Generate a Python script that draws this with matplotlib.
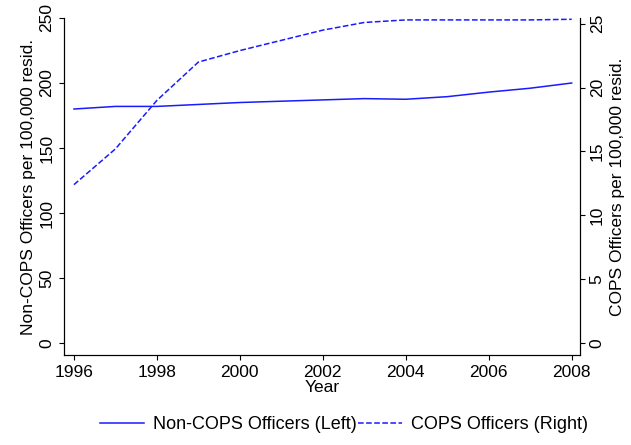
import matplotlib.pyplot as plt

years = list(range(1996, 2009))
non_cops = [180, 182, 182, 183.5, 185, 186, 187, 188, 187.5, 189.5, 193, 196, 200]
cops = [12.4, 15.2, 19.0, 22.0, 22.9, 23.7, 24.5, 25.1, 25.3, 25.3, 25.3, 25.3, 25.35]

plt.rcParams['font.family'] = ['Liberation Sans', 'DejaVu Sans']
fig = plt.figure(figsize=(6.31, 4.45), dpi=100)
ax = fig.add_axes([64/631, 1-355/445, 516/631, 337/445])
ax2 = ax.twinx()
blue = '#1a1aff'
l1, = ax.plot(years, non_cops, color=blue, lw=1.1, label='Non-COPS Officers (Left)')
l2, = ax2.plot(years, cops, color=blue, lw=1.1, ls='--', label='COPS Officers (Right)')

ax.set_xlim(1995.76, 2008.2)
ax.set_ylim(-9.2, 250)
ax2.set_ylim(-0.94, 25.45)
ax.set_xticks(range(1996, 2009, 2))
ax.set_yticks(range(0, 251, 50))
ax2.set_yticks(range(0, 26, 5))
for a in (ax, ax2):
    a.tick_params(labelsize=12.5)
    a.spines['top'].set_visible(False)
for t in ax.get_yticklabels() + ax2.get_yticklabels():
    t.set_rotation(90); t.set_va('center')
ax.set_xlabel('Year', fontsize=12.5, labelpad=0)
ax.set_ylabel('Non-COPS Officers per 100,000 resid.', fontsize=12.5, labelpad=2)
ax2.set_ylabel('COPS Officers per 100,000 resid.', fontsize=12.5, labelpad=4)
fig.legend(handles=[l1, l2], loc='lower center', ncol=2, frameon=False,
           fontsize=13, bbox_to_anchor=(0.545, -0.01), columnspacing=0.1,
           handlelength=2.4, handletextpad=0.5)
fig.savefig('out.png', dpi=100)
